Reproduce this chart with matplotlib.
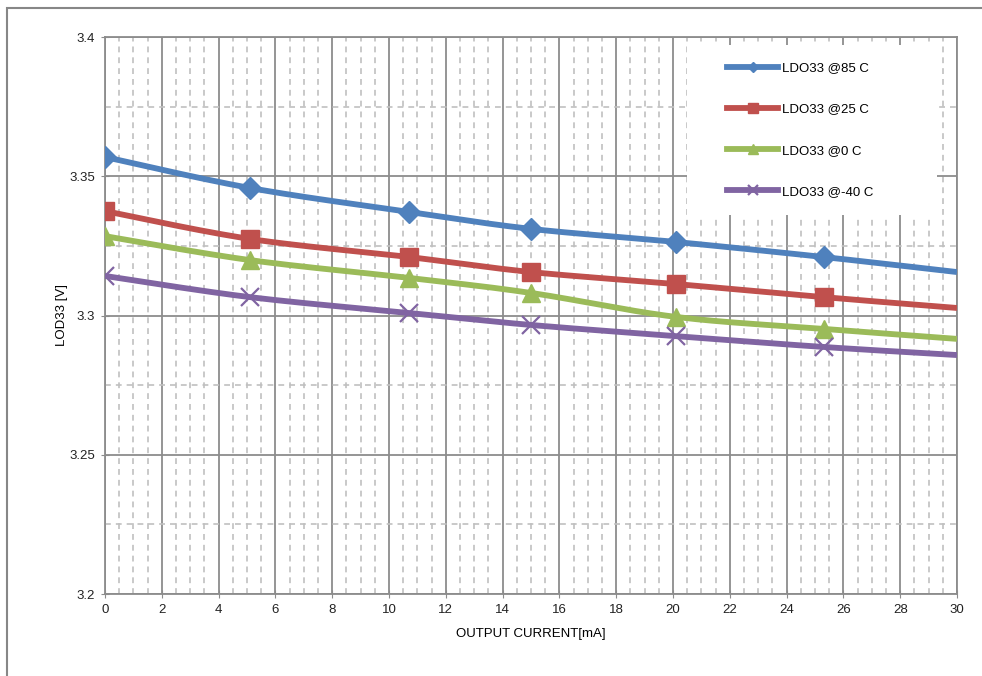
import numpy as np
import matplotlib
matplotlib.use("Agg")
import matplotlib.pyplot as plt
from matplotlib.patches import Rectangle
from matplotlib.ticker import MultipleLocator

plt.rcParams['font.family'] = ['Liberation Sans Narrow', 'Liberation Sans', 'DejaVu Sans']

# data
current = [0, 5.1, 10.7, 15.0, 20.1, 25.3, 30.0]
v_85 = [3.3569, 3.3458, 3.3372, 3.3311, 3.3264, 3.3210, 3.3156]
v_25 = [3.3375, 3.3275, 3.3210, 3.3156, 3.3113, 3.3066, 3.3027]
v_0 = [3.3285, 3.3199, 3.3135, 3.3081, 3.2995, 3.2952, 3.2916]
v_m40 = [3.3142, 3.3066, 3.3009, 3.2966, 3.2926, 3.2887, 3.2858]
labels = ['LDO33 @85 C', 'LDO33 @25 C', 'LDO33 @0 C', 'LDO33 @-40 C']
colors = ['#4F81BD', '#C0504D', '#9BBB59', '#8064A2']
markers = ['D', 's', '^', 'x']
msizes = [11, 13, 13, 13]


def smooth(x, y, n=30):
    # bezier smoothing like the spreadsheet "smoothed line"
    x = np.asarray(x, float); y = np.asarray(y, float)
    px = np.concatenate([[x[0]], x, [x[-1]]])
    py = np.concatenate([[y[0]], y, [y[-1]]])
    xs, ys = [], []
    t = np.linspace(0, 1, n)
    for i in range(1, len(px) - 2):
        p0 = np.array([px[i], py[i]]); p3 = np.array([px[i + 1], py[i + 1]])
        c1 = p0 + (np.array([px[i + 1], py[i + 1]]) - np.array([px[i - 1], py[i - 1]])) / 6
        c2 = p3 - (np.array([px[i + 2], py[i + 2]]) - np.array([px[i], py[i]])) / 6
        b = ((1 - t) ** 3)[:, None] * p0 + (3 * (1 - t) ** 2 * t)[:, None] * c1 \
            + (3 * (1 - t) * t ** 2)[:, None] * c2 + (t ** 3)[:, None] * p3
        xs.extend(b[:, 0]); ys.extend(b[:, 1])
    return np.array(xs), np.array(ys)


fig = plt.figure(figsize=(9.82, 6.76), dpi=100)
ax = fig.add_axes([105 / 982, 1 - 594 / 676, (957 - 105) / 982, (594 - 37) / 676])

# outer chart frame
fig.patches.append(Rectangle((7 / 982, -0.1), 1.2, 1.1 - 8 / 676, transform=fig.transFigure,
                             fill=False, edgecolor='#878787', lw=1.5))

for yv, c, m, ms, lab in zip([v_85, v_25, v_0, v_m40], colors, markers, msizes, labels):
    sx, sy = smooth(current, yv)
    ax.plot(sx, sy, color=c, lw=4.2, solid_capstyle='butt', zorder=3)
    mew = 1.6 if m == 'x' else 1
    ax.plot(current[:-1], yv[:-1], ls='none', marker=m, ms=ms, color=c, mec=c, mew=mew, zorder=4)
    ax.plot([], [], color=c, lw=4.2, marker=m, ms=ms * 0.5, mew=mew, label=lab)

ax.set_xlim(0, 30)
ax.set_ylim(3.2, 3.4)
ax.xaxis.set_major_locator(MultipleLocator(2))
ax.xaxis.set_minor_locator(MultipleLocator(0.5))
ax.yaxis.set_minor_locator(MultipleLocator(0.025))
ax.set_yticks([3.2, 3.25, 3.3, 3.35, 3.4])
ax.set_yticklabels(['3.2', '3.25', '3.3', '3.35', '3.4'])

ax.grid(which='major', color='#8c8c8c', lw=1.3, ls='-')
ax.grid(which='minor', color='#c0c0c0', lw=1.2, ls=(0, (3.5, 3)))
ax.set_axisbelow(True)
for s in ax.spines.values():
    s.set_color('#8c8c8c'); s.set_linewidth(1.3)
ax.tick_params(which='major', direction='inout', length=6, color='#8c8c8c', labelsize=9.5,
               labelcolor='#222222', pad=4)
ax.tick_params(which='minor', length=0)

ax.set_xlabel('OUTPUT CURRENT[mA]', fontsize=9.5, labelpad=9)
ax.set_ylabel('LOD33 [V]', fontsize=9.5, labelpad=1)

# white legend box over the grid
box = Rectangle(((687 - 105) / 852, 1 - (215 - 37) / 557), 250 / 852, 170 / 557,
                transform=ax.transAxes, facecolor='white', edgecolor='none', zorder=5)
ax.add_patch(box)

leg = ax.legend(loc='upper left', bbox_to_anchor=((727 - 105) / 852, 1 - (62 - 37) / 557),
                frameon=False, fontsize=9.5, handlelength=3.9, handletextpad=0.3,
                labelspacing=2.2, borderpad=0, borderaxespad=0, numpoints=1)
leg.set_zorder(6)

fig.savefig('out.png', dpi=100)
